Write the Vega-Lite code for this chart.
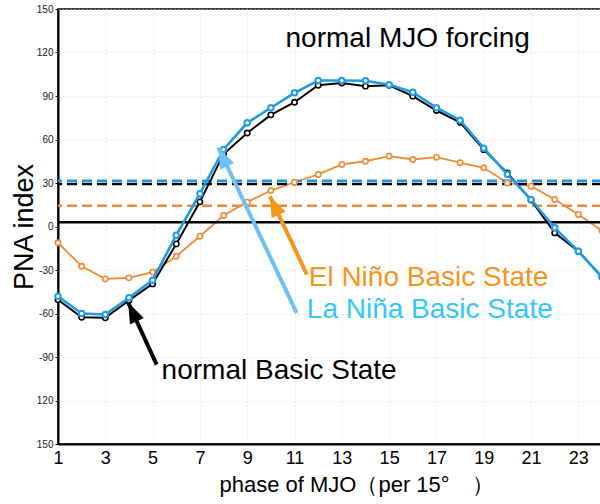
{
  "$schema": "https://vega.github.io/schema/vega-lite/v6.json",
  "width": 544,
  "height": 435,
  "autosize": {"type": "none"},
  "padding": {"left": 58, "top": 9, "right": 0, "bottom": 60},
  "background": "white",
  "config": {
    "font": "Liberation Sans",
    "view": {"stroke": "#000", "strokeWidth": 1.5},
    "axisX": {
      "labelFontSize": 18, "labelColor": "#000", "labelFlush": false, "labelPadding": 5,
      "domainColor": "#000", "domainWidth": 2, "ticks": false,
      "grid": true, "gridDash": [1, 3], "gridColor": "#d8d8d8",
      "titleFontSize": 22, "titleFontWeight": "normal", "titleColor": "#000"
    },
    "axisY": {
      "labelFontSize": 10, "labelColor": "#222", "labelPadding": 2, "labelFlush": false,
      "tickSize": 3, "tickColor": "#000", "domainColor": "#000", "domainWidth": 2,
      "grid": true, "gridDash": [1, 3], "gridColor": "#d8d8d8",
      "titleFontSize": 27, "titleFontWeight": "normal", "titleColor": "#000"
    }
  },
  "resolve": {"scale": {"color": "independent", "stroke": "independent"}},
  "datasets": {
    "series": [
      {"phase": 1, "state": "normal", "pna": -50.5}, {"phase": 2, "state": "normal", "pna": -62.6},
      {"phase": 3, "state": "normal", "pna": -63}, {"phase": 4, "state": "normal", "pna": -51},
      {"phase": 5, "state": "normal", "pna": -39.6}, {"phase": 6, "state": "normal", "pna": -12},
      {"phase": 7, "state": "normal", "pna": 17}, {"phase": 8, "state": "normal", "pna": 50},
      {"phase": 9, "state": "normal", "pna": 64.5}, {"phase": 10, "state": "normal", "pna": 77},
      {"phase": 11, "state": "normal", "pna": 85.7}, {"phase": 12, "state": "normal", "pna": 97.4},
      {"phase": 13, "state": "normal", "pna": 99}, {"phase": 14, "state": "normal", "pna": 96.8},
      {"phase": 15, "state": "normal", "pna": 97.4}, {"phase": 16, "state": "normal", "pna": 89.9},
      {"phase": 17, "state": "normal", "pna": 80}, {"phase": 18, "state": "normal", "pna": 71.9},
      {"phase": 19, "state": "normal", "pna": 53}, {"phase": 20, "state": "normal", "pna": 37},
      {"phase": 21, "state": "normal", "pna": 18.2}, {"phase": 22, "state": "normal", "pna": -4.4},
      {"phase": 23, "state": "normal", "pna": -17}, {"phase": 24, "state": "normal", "pna": -35},
      {"phase": 1, "state": "La Niña", "pna": -48.1}, {"phase": 2, "state": "La Niña", "pna": -60},
      {"phase": 3, "state": "La Niña", "pna": -60.7}, {"phase": 4, "state": "La Niña", "pna": -49.2},
      {"phase": 5, "state": "La Niña", "pna": -37}, {"phase": 6, "state": "La Niña", "pna": -6},
      {"phase": 7, "state": "La Niña", "pna": 22.6}, {"phase": 8, "state": "La Niña", "pna": 53.1},
      {"phase": 9, "state": "La Niña", "pna": 71.5}, {"phase": 10, "state": "La Niña", "pna": 81.9},
      {"phase": 11, "state": "La Niña", "pna": 92.2}, {"phase": 12, "state": "La Niña", "pna": 100.7},
      {"phase": 13, "state": "La Niña", "pna": 100.7}, {"phase": 14, "state": "La Niña", "pna": 100.5},
      {"phase": 15, "state": "La Niña", "pna": 97.7}, {"phase": 16, "state": "La Niña", "pna": 92.6},
      {"phase": 17, "state": "La Niña", "pna": 81.9}, {"phase": 18, "state": "La Niña", "pna": 73.3},
      {"phase": 19, "state": "La Niña", "pna": 54}, {"phase": 20, "state": "La Niña", "pna": 36},
      {"phase": 21, "state": "La Niña", "pna": 18.6}, {"phase": 22, "state": "La Niña", "pna": -0.9},
      {"phase": 23, "state": "La Niña", "pna": -17}, {"phase": 24, "state": "La Niña", "pna": -35},
      {"phase": 1, "state": "El Niño", "pna": -11.2}, {"phase": 2, "state": "El Niño", "pna": -27.4},
      {"phase": 3, "state": "El Niño", "pna": -36.1}, {"phase": 4, "state": "El Niño", "pna": -35.4},
      {"phase": 5, "state": "El Niño", "pna": -31.5}, {"phase": 6, "state": "El Niño", "pna": -20.5},
      {"phase": 7, "state": "El Niño", "pna": -6.7}, {"phase": 8, "state": "El Niño", "pna": 7.6},
      {"phase": 9, "state": "El Niño", "pna": 16.8}, {"phase": 10, "state": "El Niño", "pna": 24.8},
      {"phase": 11, "state": "El Niño", "pna": 30.5}, {"phase": 12, "state": "El Niño", "pna": 35.9},
      {"phase": 13, "state": "El Niño", "pna": 42.8}, {"phase": 14, "state": "El Niño", "pna": 45},
      {"phase": 15, "state": "El Niño", "pna": 48.5}, {"phase": 16, "state": "El Niño", "pna": 46.2},
      {"phase": 17, "state": "El Niño", "pna": 47.8}, {"phase": 18, "state": "El Niño", "pna": 44},
      {"phase": 19, "state": "El Niño", "pna": 40.5}, {"phase": 20, "state": "El Niño", "pna": 30},
      {"phase": 21, "state": "El Niño", "pna": 27.8}, {"phase": 22, "state": "El Niño", "pna": 18.6},
      {"phase": 23, "state": "El Niño", "pna": 8.3}, {"phase": 24, "state": "El Niño", "pna": -3}
    ],
    "refs": [
      {"basis": "La Niña", "pna": 31.5},
      {"basis": "normal", "pna": 29.3},
      {"basis": "El Niño", "pna": 14.3},
      {"basis": "zero", "pna": 3}
    ],
    "notes": [
      {"note": "normal MJO forcing", "tone": "title", "phase": 10.62, "pna": 123.7},
      {"note": "El Niño Basic State", "tone": "El Niño", "phase": 11.6, "pna": -41.2},
      {"note": "La Niña Basic State", "tone": "La Niña", "phase": 11.52, "pna": -63.4},
      {"note": "normal Basic State", "tone": "normal", "phase": 5.38, "pna": -105}
    ],
    "arrows": [
      {"arrow": "normal", "tailPhase": 5.17, "tailPna": -95.2, "tipPhase": 3.97, "tipPna": -52.6},
      {"arrow": "El Niño", "tailPhase": 11.52, "tailPna": -33.1, "tipPhase": 9.96, "tipPna": 20.9},
      {"arrow": "La Niña", "tailPhase": 11.09, "tailPna": -59.5, "tipPhase": 7.78, "tipPna": 54.3}
    ]
  },
  "layer": [
    {
      "data": {"name": "series"},
      "transform": [{"filter": "datum.state === 'El Niño'"}],
      "mark": {"type": "line", "color": "#f08a32", "strokeWidth": 1.8},
      "encoding": {
        "x": {
          "field": "phase", "type": "quantitative",
          "scale": {"domain": [1, 24], "nice": false, "zero": false},
          "axis": {"values": [1, 3, 5, 7, 9, 11, 13, 15, 17, 19, 21, 23], "format": "d",
                   "title": "phase of MJO（per 15°　）", "titleX": 161, "titleY": 47,
                   "titleAlign": "left", "titleBaseline": "alphabetic"}
        },
        "y": {
          "field": "pna", "type": "quantitative",
          "scale": {"domain": [-150, 150], "nice": false},
          "axis": {"values": [-150, -120, -90, -60, -30, 0, 30, 60, 90, 120, 150],
                   "labelExpr": "abs(datum.value) >= 120 ? format(abs(datum.value), 'd') : (datum.value < 0 ? '-' + format(-datum.value, 'd') : format(datum.value, 'd'))",
                   "title": "PNA index", "titleX": -26, "titleY": 217.5, "titleAngle": 270,
                   "titleAlign": "center", "titleBaseline": "alphabetic"}
        }
      }
    },
    {
      "data": {"name": "refs"},
      "transform": [{"filter": "datum.basis !== 'zero'"}],
      "mark": {"type": "rule", "strokeDash": [10, 5], "strokeWidth": 2.5},
      "encoding": {
        "y": {"field": "pna", "type": "quantitative", "title": "PNA index"},
        "color": {"field": "basis", "type": "nominal", "legend": null,
                  "scale": {"domain": ["La Niña", "normal", "El Niño"], "range": ["#1a9ae2", "#000000", "#f0883c"]}}
      }
    },
    {
      "data": {"name": "refs"},
      "transform": [{"filter": "datum.basis === 'zero'"}],
      "mark": {"type": "rule", "color": "#000", "strokeWidth": 2.5},
      "encoding": {"y": {"field": "pna", "type": "quantitative", "title": "PNA index"}}
    },
    {
      "data": {"name": "series"},
      "transform": [{"filter": "datum.state === 'El Niño'"}],
      "mark": {"type": "point", "shape": "circle", "filled": true, "fill": "white", "stroke": "#f08a32", "strokeWidth": 1.6, "size": 28, "opacity": 1},
      "encoding": {
        "x": {"field": "phase", "type": "quantitative", "title": "phase of MJO（per 15°　）"},
        "y": {"field": "pna", "type": "quantitative", "title": "PNA index"}
      }
    },
    {
      "data": {"name": "series"},
      "transform": [{"filter": "datum.state === 'normal'"}],
      "mark": {"type": "line", "color": "#000", "strokeWidth": 2},
      "encoding": {
        "x": {"field": "phase", "type": "quantitative", "title": "phase of MJO（per 15°　）"},
        "y": {"field": "pna", "type": "quantitative", "title": "PNA index"}
      }
    },
    {
      "data": {"name": "series"},
      "transform": [{"filter": "datum.state === 'normal'"}],
      "mark": {"type": "point", "shape": "circle", "filled": true, "fill": "white", "stroke": "#000", "strokeWidth": 1.6, "size": 28, "opacity": 1},
      "encoding": {
        "x": {"field": "phase", "type": "quantitative", "title": "phase of MJO（per 15°　）"},
        "y": {"field": "pna", "type": "quantitative", "title": "PNA index"}
      }
    },
    {
      "data": {"name": "series"},
      "transform": [{"filter": "datum.state === 'La Niña'"}],
      "mark": {"type": "line", "color": "#1e9be6", "strokeWidth": 2.6},
      "encoding": {
        "x": {"field": "phase", "type": "quantitative", "title": "phase of MJO（per 15°　）"},
        "y": {"field": "pna", "type": "quantitative", "title": "PNA index"}
      }
    },
    {
      "data": {"name": "series"},
      "transform": [{"filter": "datum.state === 'La Niña'"}],
      "mark": {"type": "point", "shape": "circle", "filled": true, "fill": "white", "stroke": "#1e9be6", "strokeWidth": 2, "size": 30, "opacity": 1},
      "encoding": {
        "x": {"field": "phase", "type": "quantitative", "title": "phase of MJO（per 15°　）"},
        "y": {"field": "pna", "type": "quantitative", "title": "PNA index"}
      }
    },
    {
      "data": {"name": "arrows"},
      "mark": {"type": "rule", "strokeWidth": 4},
      "encoding": {
        "x": {"field": "tailPhase", "type": "quantitative", "title": "phase of MJO（per 15°　）"},
        "y": {"field": "tailPna", "type": "quantitative", "title": "PNA index"},
        "x2": {"field": "tipPhase"},
        "y2": {"field": "tipPna"},
        "color": {"field": "arrow", "type": "nominal", "legend": null,
                  "scale": {"domain": ["normal", "El Niño", "La Niña"], "range": ["#000000", "#f7941d", "#6cc0f7"]}}
      }
    },
    {
      "data": {"name": "arrows"},
      "mark": {"type": "point", "shape": "M0,0L0.75,2L-0.75,2Z", "filled": true, "size": 420, "angle": 335, "opacity": 1, "strokeWidth": 0},
      "encoding": {
        "x": {"field": "tipPhase", "type": "quantitative", "title": "phase of MJO（per 15°　）"},
        "y": {"field": "tipPna", "type": "quantitative", "title": "PNA index"},
        "color": {"field": "arrow", "type": "nominal", "legend": null,
                  "scale": {"domain": ["normal", "El Niño", "La Niña"], "range": ["#000000", "#f7941d", "#6cc0f7"]}}
      }
    },
    {
      "data": {"name": "notes"},
      "mark": {"type": "text", "align": "left", "baseline": "alphabetic", "fontSize": 28, "font": "Liberation Sans"},
      "encoding": {
        "x": {"field": "phase", "type": "quantitative", "title": "phase of MJO（per 15°　）"},
        "y": {"field": "pna", "type": "quantitative", "title": "PNA index"},
        "text": {"field": "note"},
        "color": {"field": "tone", "type": "nominal", "legend": null,
                  "scale": {"domain": ["title", "El Niño", "La Niña", "normal"], "range": ["#000000", "#f7941d", "#33c8f8", "#000000"]}}
      }
    }
  ]
}
